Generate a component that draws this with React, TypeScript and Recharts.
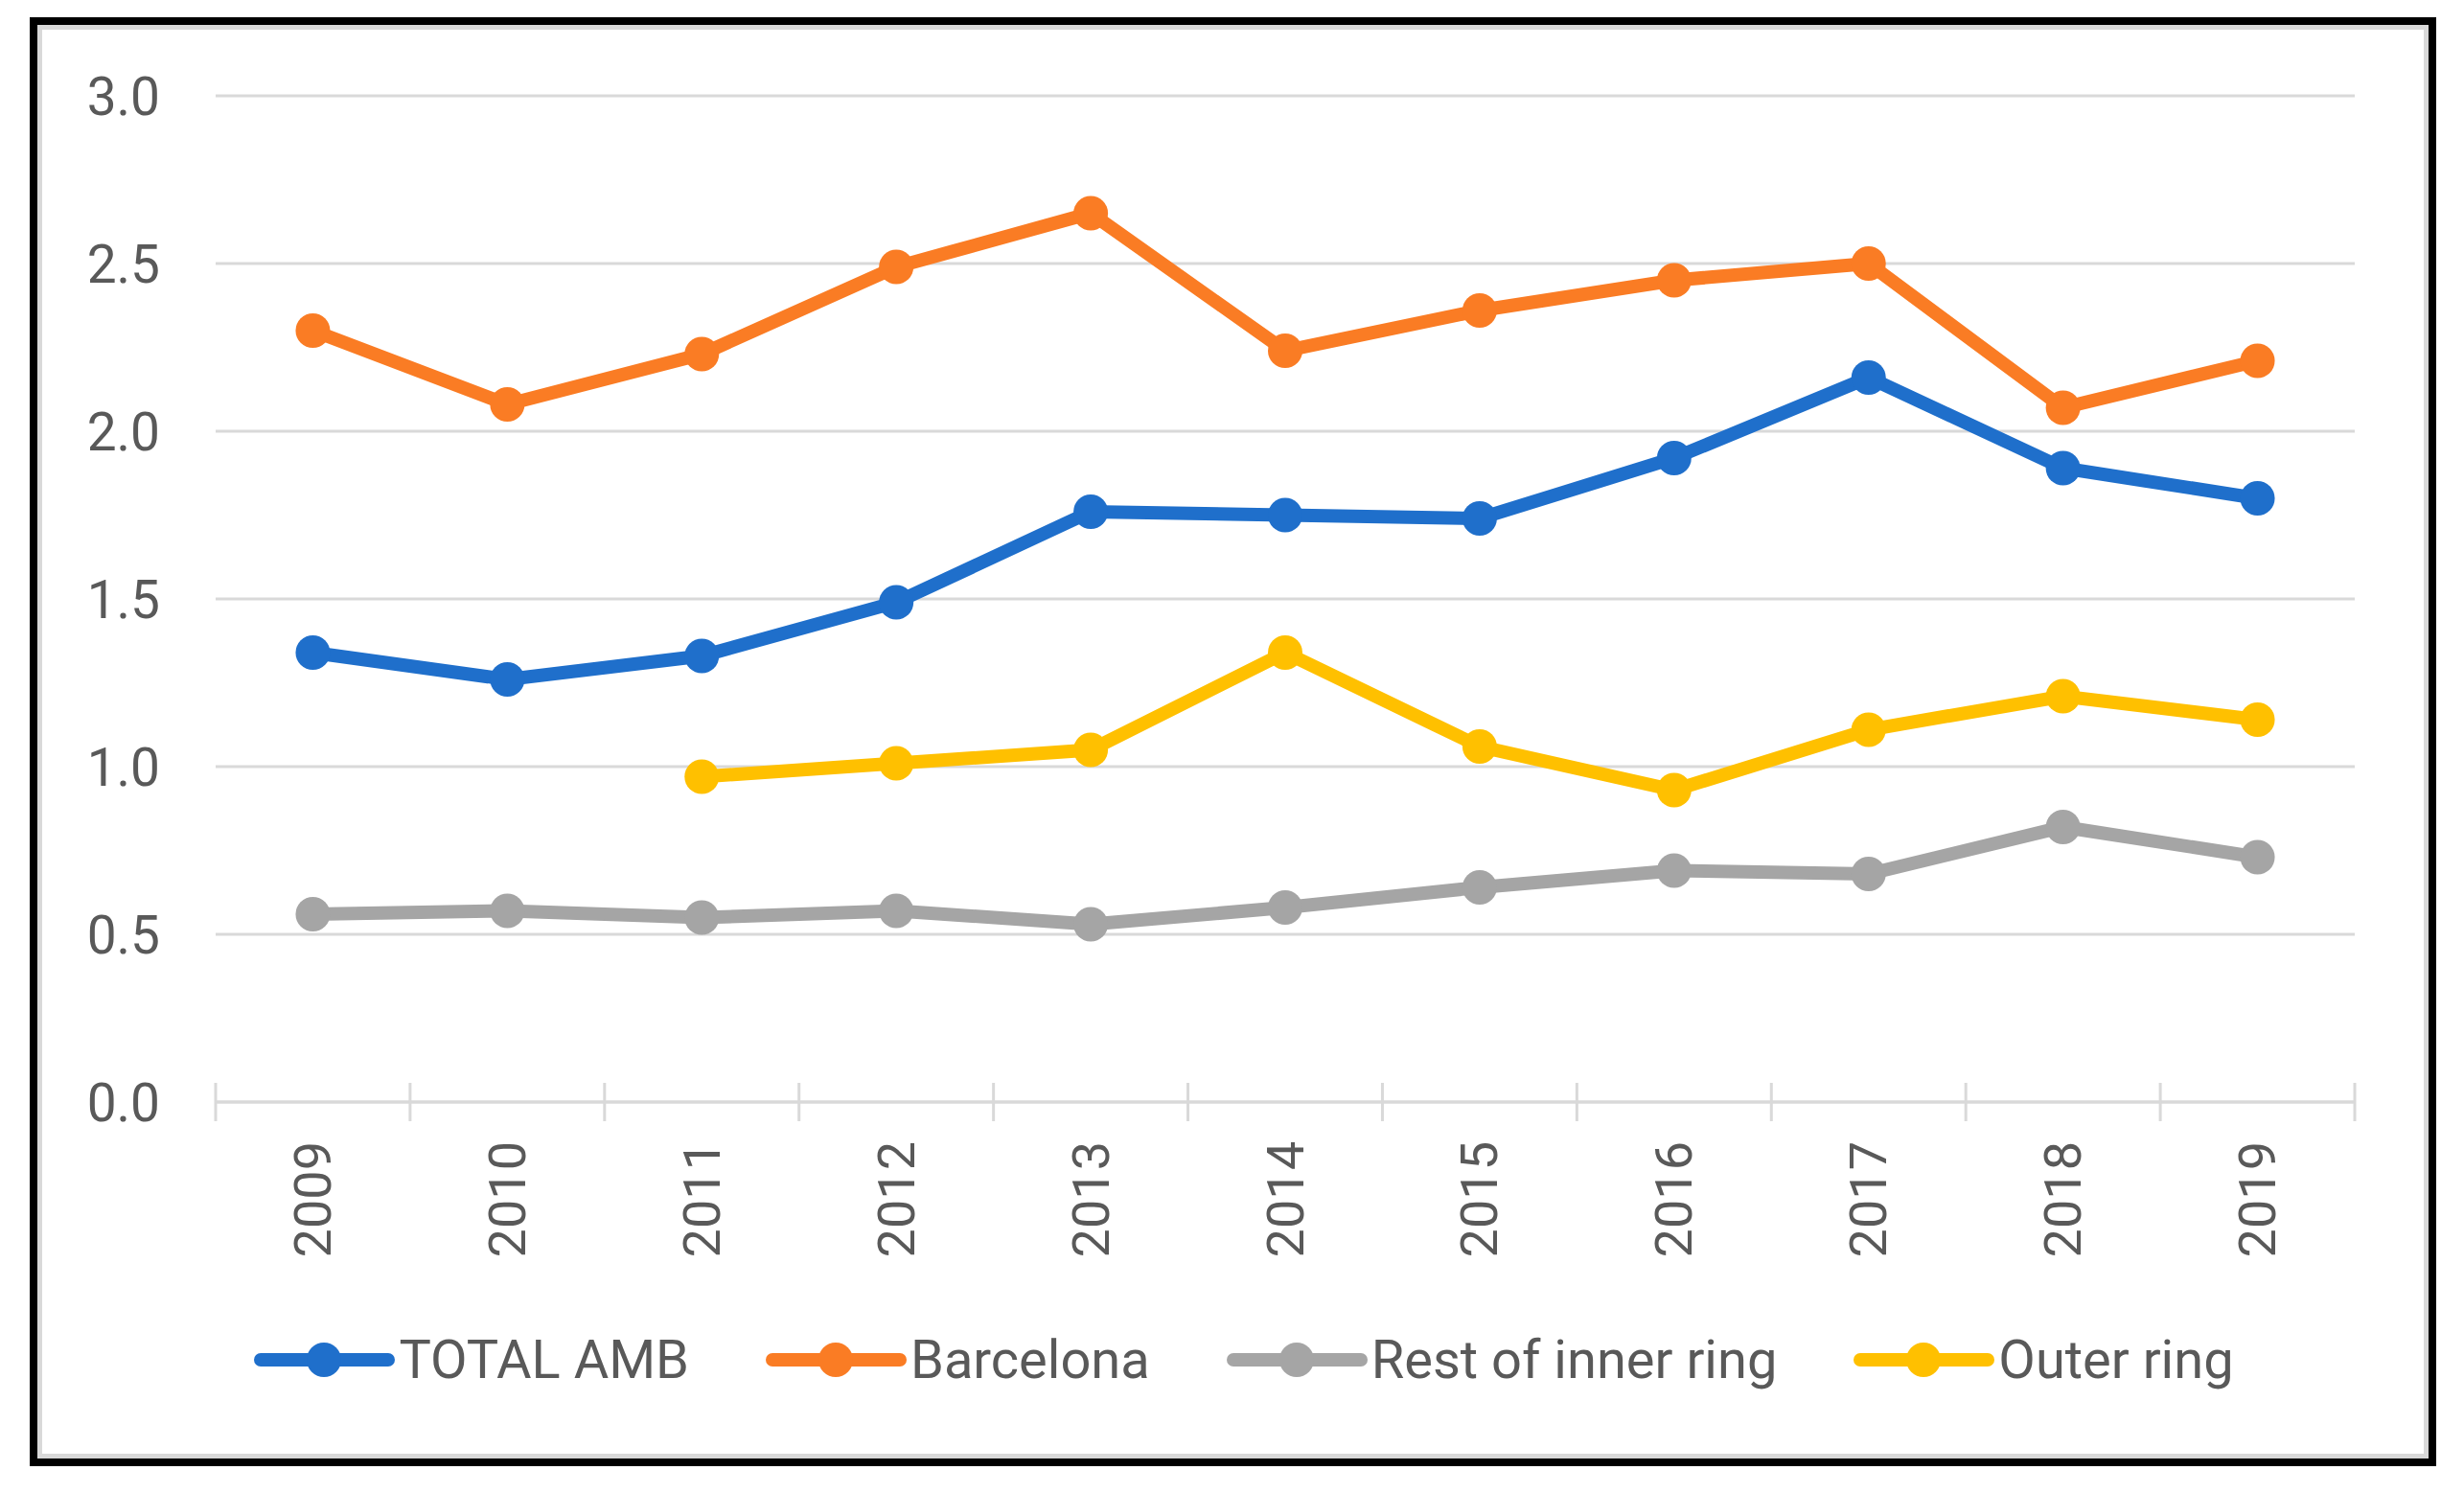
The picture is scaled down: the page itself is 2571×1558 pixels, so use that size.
import { LineChart, Line, XAxis, YAxis, CartesianGrid, Legend } from 'recharts';

// Years on the category axis
const years = [2009, 2010, 2011, 2012, 2013, 2014, 2015, 2016, 2017, 2018, 2019];

// Series values
const totalAmb = [1.34, 1.26, 1.33, 1.49, 1.76, 1.75, 1.74, 1.92, 2.16, 1.89, 1.80];
const barcelona = [2.30, 2.08, 2.23, 2.49, 2.65, 2.24, 2.36, 2.45, 2.50, 2.07, 2.21];
const restInner = [0.56, 0.57, 0.55, 0.57, 0.53, 0.58, 0.64, 0.69, 0.68, 0.82, 0.73];
const outerRing = [null, null, 0.97, 1.01, 1.05, 1.34, 1.06, 0.93, 1.11, 1.21, 1.14];

const yTicks = [0, 0.5, 1, 1.5, 2, 2.5, 3];
// category boundaries (small tick marks) plus the year centres (labels)
const boundaryTicks = [2008.5, 2009.5, 2010.5, 2011.5, 2012.5, 2013.5, 2014.5, 2015.5, 2016.5, 2017.5, 2018.5, 2019.5];
const xTicks = [...boundaryTicks, ...years].sort((a, b) => a - b);

const series = [
    { key: 'total', name: 'TOTAL AMB', color: '#1F6FCB' },
    { key: 'bcn', name: 'Barcelona', color: '#FA7C24' },
    { key: 'rest', name: 'Rest of inner ring', color: '#A5A5A5' },
    { key: 'outer', name: 'Outer ring', color: '#FFC000' },
];

const data = years.map((year, i) => ({
    year,
    total: totalAmb[i],
    bcn: barcelona[i],
    rest: restInner[i],
    outer: outerRing[i],
}));

const FONT = 'Roboto, "Open Sans", sans-serif';
const TEXT = '#595959';
const GRID = '#D9D9D9';
const LABEL_GAP = 41;

// integer values get a rotated year label, half values get a tick mark across the axis
const XTick = ({ x, y, payload }: any) => {
    if (!Number.isInteger(payload.value)) {
        const axisY = y - LABEL_GAP;
        return <line x1={x} x2={x} y1={axisY - 20} y2={axisY + 20} stroke={GRID} strokeWidth={3} />;
    }
    return (
        <text
            x={x}
            y={y}
            transform={`rotate(-90 ${x} ${y})`}
            textAnchor="end"
            dominantBaseline="central"
            fill={TEXT}
            fontFamily={FONT}
            fontSize={54}
        >
            {payload.value}
        </text>
    );
};

const LegendContent = () => (
    <div
        style={{
            display: 'flex',
            justifyContent: 'center',
            alignItems: 'center',
            gap: 80,
            height: 100,
            fontFamily: FONT,
            fontSize: 56,
            color: TEXT,
        }}
    >
        {series.map((s) => (
            <div key={s.key} style={{ display: 'flex', alignItems: 'center' }}>
                <svg width={147} height={40} style={{ marginRight: 4 }}>
                    <line x1={7} x2={140} y1={20} y2={20} stroke={s.color} strokeWidth={14} strokeLinecap="round" />
                    <circle cx={73} cy={20} r={18} fill={s.color} />
                </svg>
                <span style={{ whiteSpace: 'nowrap' }}>{s.name}</span>
            </div>
        ))}
    </div>
);

export default function App() {
    return (
        <div style={{ position: 'absolute', left: 0, top: 0, width: 2571, height: 1558, background: '#fff' }}>
            {/* frame around the chart */}
            <div
                style={{
                    position: 'absolute',
                    left: 31,
                    top: 18,
                    width: 2511,
                    height: 1512,
                    boxSizing: 'border-box',
                    border: '8px solid #000',
                    boxShadow: 'inset 0 0 0 5px #D9D9D9',
                }}
            />
            <div style={{ position: 'absolute', left: 0, top: 0 }}>
                <LineChart width={2571} height={1558} data={data} margin={{ top: 100, right: 114, left: 0, bottom: 89 }}>
                    <CartesianGrid horizontal vertical={false} stroke={GRID} strokeWidth={3} />
                    <XAxis
                        dataKey="year"
                        type="number"
                        domain={[2008.5, 2019.5]}
                        ticks={xTicks}
                        interval={0}
                        height={219}
                        axisLine={{ stroke: GRID, strokeWidth: 3 }}
                        tickLine={false}
                        tickSize={0}
                        tickMargin={LABEL_GAP}
                        tick={<XTick />}
                    />
                    <YAxis
                        domain={[0, 3]}
                        ticks={yTicks}
                        width={225}
                        axisLine={false}
                        tickLine={false}
                        tickSize={0}
                        tickMargin={58}
                        tickFormatter={(v: number) => v.toFixed(1)}
                        tick={{ fill: TEXT, fontFamily: FONT, fontSize: 55 }}
                    />
                    <Legend
                        verticalAlign="bottom"
                        height={100}
                        wrapperStyle={{ left: 25, width: 2546 }}
                        content={<LegendContent />}
                    />
                    {series.map((s) => (
                        <Line
                            key={s.key}
                            type="linear"
                            dataKey={s.key}
                            name={s.name}
                            stroke={s.color}
                            strokeWidth={14}
                            dot={{ r: 18, fill: s.color, stroke: 'none' }}
                            activeDot={false}
                            isAnimationActive={false}
                        />
                    ))}
                </LineChart>
            </div>
        </div>
    );
}
